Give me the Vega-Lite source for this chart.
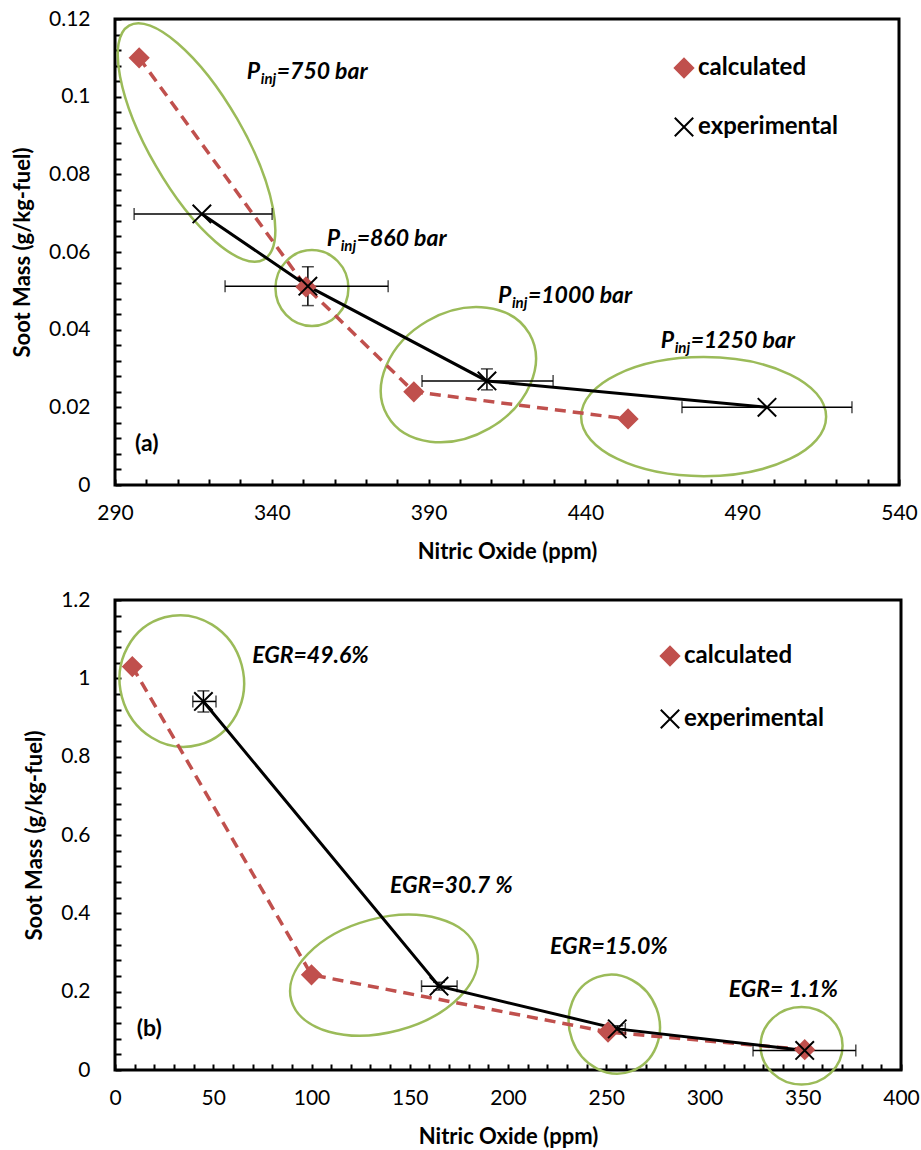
{
  "$schema": "https://vega.github.io/schema/vega-lite/v6.json",
  "padding": {"left": 10, "top": 6, "right": 10, "bottom": 0},
  "spacing": 23,
  "background": "white",
  "config": {
    "font": "Lato",
    "view": {"stroke": "black", "strokeWidth": 3},
    "axis": {
      "domain": false, "grid": false, "ticks": true, "tickSize": 6, "offset": -6, "tickColor": "black", "tickWidth": 2, "tickCount": 100,
      "labelFont": "Lato", "labelFontSize": 21, "labelColor": "black", "labelOverlap": false, "labelFlush": false,
      "titleFont": "Lato", "titleFontSize": 22, "titleFontWeight": "bold", "titleColor": "black"
    },
    "axisX": {"labelPadding": 17, "titlePadding": 18},
    "axisY": {"labelPadding": 25, "titlePadding": 14},
    "legend": {
      "labelFont": "Lato", "labelFontSize": 24, "labelFontWeight": "bold", "labelColor": "black",
      "labelOffset": 2, "symbolStrokeWidth": 2, "padding": 0, "symbolSize": 340
    }
  },
  "datasets": {
    "a_pts": [
      {"series": "calculated", "x": 297.7, "y": 0.110},
      {"series": "calculated", "x": 350.9, "y": 0.051},
      {"series": "calculated", "x": 385.3, "y": 0.024},
      {"series": "calculated", "x": 453.6, "y": 0.017},
      {"series": "experimental", "x": 317.7, "y": 0.0698, "xlo": 296.1, "xhi": 340.1},
      {"series": "experimental", "x": 351.5, "y": 0.0512, "xlo": 325.1, "xhi": 377.1, "ylo": 0.0462, "yhi": 0.0562},
      {"series": "experimental", "x": 408.6, "y": 0.0268, "xlo": 387.9, "xhi": 429.7, "ylo": 0.0245, "yhi": 0.0299},
      {"series": "experimental", "x": 497.9, "y": 0.020, "xlo": 470.8, "xhi": 525.0}
    ],
    "a_ell": [
      {"tag": "750", "x": 316.0, "y": 0.0882},
      {"tag": "860", "x": 352.8, "y": 0.0507},
      {"tag": "1000", "x": 399.5, "y": 0.0284},
      {"tag": "1250", "x": 477.7, "y": 0.0176}
    ],
    "a_lab": [
      {"x": 332.0, "y": 0.1045, "sub": "inj", "rest": "=750 bar"},
      {"x": 357.5, "y": 0.0615, "sub": "inj", "rest": "=860 bar"},
      {"x": 412.1, "y": 0.0469, "sub": "inj", "rest": "=1000 bar"},
      {"x": 464.0, "y": 0.0352, "sub": "inj", "rest": "=1250 bar"}
    ],
    "a_tag": [{"x": 296.4, "y": 0.0087, "text": "(a)"}],
    "b_pts": [
      {"series": "calculated", "x": 8.8, "y": 1.03},
      {"series": "calculated", "x": 100, "y": 0.243},
      {"series": "calculated", "x": 250.9, "y": 0.097},
      {"series": "calculated", "x": 351, "y": 0.052},
      {"series": "experimental", "x": 45, "y": 0.941, "xlo": 39.6, "xhi": 51.4, "ylo": 0.914, "yhi": 0.968},
      {"series": "experimental", "x": 164.9, "y": 0.214, "xlo": 156.0, "xhi": 174.1, "ylo": 0.204, "yhi": 0.224},
      {"series": "experimental", "x": 255.6, "y": 0.105, "xlo": 251.5, "xhi": 259.7, "ylo": 0.097, "yhi": 0.113},
      {"series": "experimental", "x": 351, "y": 0.050, "xlo": 324.7, "xhi": 377.0}
    ],
    "b_ell": [
      {"tag": "49.6", "x": 34.0, "y": 0.993},
      {"tag": "30.7", "x": 136.9, "y": 0.242},
      {"tag": "15.0", "x": 254.1, "y": 0.117},
      {"tag": "1.1", "x": 349.4, "y": 0.062}
    ],
    "b_lab": [
      {"x": 69.8, "y": 1.039, "text": "EGR=49.6%"},
      {"x": 139.9, "y": 0.4527, "text": "EGR=30.7 %"},
      {"x": 221.4, "y": 0.297, "text": "EGR=15.0%"},
      {"x": 312.3, "y": 0.1864, "text": "EGR= 1.1%"}
    ],
    "b_tag": [{"x": 11.1, "y": 0.088, "text": "(b)"}]
  },
  "vconcat": [
    {
      "width": 784,
      "height": 466,
      "layer": [
        {"data": {"name": "a_pts"},
          "mark": {"type": "point", "opacity": 0},
          "encoding": {
            "x": {"field": "x", "type": "quantitative",
              "scale": {"domain": [290, 540], "nice": false, "zero": false},
              "axis": {"title": "Nitric Oxide (ppm)",
                "values": [290,300,310,320,330,340,350,360,370,380,390,400,410,420,430,440,450,460,470,480,490,500,510,520,530,540],
                "labelExpr": "(datum.value - 290) % 50 == 0 ? datum.label : ''"}},
            "y": {"field": "y", "type": "quantitative",
              "scale": {"domain": [0, 0.12], "nice": false, "zero": false},
              "axis": {"title": "Soot Mass (g/kg-fuel)",
                "values": [0,0.004,0.008,0.012,0.016,0.02,0.024,0.028,0.032,0.036,0.04,0.044,0.048,0.052,0.056,0.06,0.064,0.068,0.072,0.076,0.08,0.084,0.088,0.092,0.096,0.1,0.104,0.108,0.112,0.116,0.12],
                "labelExpr": "abs(datum.value*50 - round(datum.value*50)) < 0.01 ? format(datum.value, '~g') : ''"}}
          }},
        {"data": {"name": "a_ell"}, "transform": [{"filter": "datum.tag == '750'"}],
          "mark": {"type": "point", "filled": false, "opacity": 1, "color": "#9BBB59", "strokeWidth": 2.5, "size": 72900, "angle": 60,
            "shape": "M1,0C1,0.192,0.5523,0.348,0,0.348C-0.5523,0.348,-1,0.192,-1,0C-1,-0.192,-0.5523,-0.348,0,-0.348C0.5523,-0.348,1,-0.192,1,0Z"},
          "encoding": {"x": {"field": "x", "type": "quantitative"}, "y": {"field": "y", "type": "quantitative"}}},
        {"data": {"name": "a_ell"}, "transform": [{"filter": "datum.tag == '860'"}],
          "mark": {"type": "point", "filled": false, "opacity": 1, "color": "#9BBB59", "strokeWidth": 2.5, "size": 5329, "angle": 0,
            "shape": "M1,0C1,0.575,0.5523,1.041,0,1.041C-0.5523,1.041,-1,0.575,-1,0C-1,-0.575,-0.5523,-1.041,0,-1.041C0.5523,-1.041,1,-0.575,1,0Z"},
          "encoding": {"x": {"field": "x", "type": "quantitative"}, "y": {"field": "y", "type": "quantitative"}}},
        {"data": {"name": "a_ell"}, "transform": [{"filter": "datum.tag == '1000'"}],
          "mark": {"type": "point", "filled": false, "opacity": 1, "color": "#9BBB59", "strokeWidth": 2.5, "size": 26896, "angle": -30,
            "shape": "M1,0C1,0.418,0.5523,0.756,0,0.756C-0.5523,0.756,-1,0.418,-1,0C-1,-0.418,-0.5523,-0.756,0,-0.756C0.5523,-0.756,1,-0.418,1,0Z"},
          "encoding": {"x": {"field": "x", "type": "quantitative"}, "y": {"field": "y", "type": "quantitative"}}},
        {"data": {"name": "a_ell"}, "transform": [{"filter": "datum.tag == '1250'"}],
          "mark": {"type": "point", "filled": false, "opacity": 1, "color": "#9BBB59", "strokeWidth": 2.5, "size": 60025, "angle": 0,
            "shape": "M1,0C1,0.268,0.5523,0.486,0,0.486C-0.5523,0.486,-1,0.268,-1,0C-1,-0.268,-0.5523,-0.486,0,-0.486C0.5523,-0.486,1,-0.268,1,0Z"},
          "encoding": {"x": {"field": "x", "type": "quantitative"}, "y": {"field": "y", "type": "quantitative"}}},
        {"data": {"name": "a_pts"}, "transform": [{"filter": "datum.series == 'calculated'"}],
          "mark": {"type": "line", "color": "#C0504D", "strokeWidth": 3.5, "strokeDash": [11, 7]},
          "encoding": {"x": {"field": "x", "type": "quantitative"}, "y": {"field": "y", "type": "quantitative"}}},
        {"data": {"name": "a_pts"}, "transform": [{"filter": "datum.series == 'experimental'"}],
          "mark": {"type": "line", "color": "black", "strokeWidth": 3},
          "encoding": {"x": {"field": "x", "type": "quantitative"}, "y": {"field": "y", "type": "quantitative"}}},
        {"data": {"name": "a_pts"}, "transform": [{"filter": "isValid(datum.xlo)"}],
          "mark": {"type": "errorbar", "ticks": {"size": 12, "thickness": 1.5, "color": "black"}, "rule": {"strokeWidth": 1.5, "color": "black"}},
          "encoding": {
            "x": {"field": "xlo", "type": "quantitative", "title": "Nitric Oxide (ppm)"},
            "x2": {"field": "xhi"},
            "y": {"field": "y", "type": "quantitative", "title": "Soot Mass (g/kg-fuel)"}}},
        {"data": {"name": "a_pts"}, "transform": [{"filter": "isValid(datum.ylo)"}],
          "mark": {"type": "errorbar", "ticks": {"size": 12, "thickness": 1.5, "color": "black"}, "rule": {"strokeWidth": 1.5, "color": "black"}},
          "encoding": {
            "x": {"field": "x", "type": "quantitative", "title": "Nitric Oxide (ppm)"},
            "y": {"field": "ylo", "type": "quantitative", "title": "Soot Mass (g/kg-fuel)"},
            "y2": {"field": "yhi"}}},
        {"data": {"name": "a_pts"},
          "mark": {"type": "point", "filled": false, "opacity": 1, "strokeWidth": 2, "size": 340},
          "encoding": {
            "x": {"field": "x", "type": "quantitative"}, "y": {"field": "y", "type": "quantitative"},
            "fill": {"field": "series", "type": "nominal", "scale": {"domain": ["calculated", "experimental"], "range": ["#C0504D", "transparent"]},
              "legend": {"orient": "none", "legendX": 557, "legendY": 37, "title": null, "rowPadding": 31}},
            "stroke": {"field": "series", "type": "nominal", "scale": {"domain": ["calculated", "experimental"], "range": ["#C0504D", "black"]},
              "legend": {"orient": "none", "legendX": 557, "legendY": 37, "title": null, "rowPadding": 31}},
            "shape": {"field": "series", "type": "nominal", "scale": {"domain": ["calculated", "experimental"], "range": ["diamond", "M-1,-1L1,1M-1,1L1,-1"]},
              "legend": {"orient": "none", "legendX": 557, "legendY": 37, "title": null, "rowPadding": 31}}
          }},
        {"data": {"name": "a_lab"},
          "mark": {"type": "text", "font": "Lato", "fontSize": 23, "fontWeight": "bold", "fontStyle": "italic", "align": "left", "baseline": "alphabetic", "color": "black"},
          "encoding": {"x": {"field": "x", "type": "quantitative"}, "y": {"field": "y", "type": "quantitative"}, "text": {"value": "P"}}},
        {"data": {"name": "a_lab"},
          "mark": {"type": "text", "font": "Lato", "fontSize": 15, "fontWeight": "bold", "fontStyle": "italic", "align": "left", "baseline": "alphabetic", "color": "black", "dx": 14, "dy": 5},
          "encoding": {"x": {"field": "x", "type": "quantitative"}, "y": {"field": "y", "type": "quantitative"}, "text": {"field": "sub"}}},
        {"data": {"name": "a_lab"},
          "mark": {"type": "text", "font": "Lato", "fontSize": 23, "fontWeight": "bold", "fontStyle": "italic", "align": "left", "baseline": "alphabetic", "color": "black", "dx": 30},
          "encoding": {"x": {"field": "x", "type": "quantitative"}, "y": {"field": "y", "type": "quantitative"}, "text": {"field": "rest"}}},
        {"data": {"name": "a_tag"},
          "mark": {"type": "text", "font": "Lato", "fontSize": 23, "fontWeight": "bold", "align": "left", "baseline": "alphabetic", "color": "black"},
          "encoding": {"x": {"field": "x", "type": "quantitative"}, "y": {"field": "y", "type": "quantitative"}, "text": {"field": "text"}}}
      ]
    },
    {
      "width": 786,
      "height": 470,
      "layer": [
        {"data": {"name": "b_pts"},
          "mark": {"type": "point", "opacity": 0},
          "encoding": {
            "x": {"field": "x", "type": "quantitative",
              "scale": {"domain": [0, 400], "nice": false, "zero": false},
              "axis": {"title": "Nitric Oxide (ppm)",
                "values": [0,10,20,30,40,50,60,70,80,90,100,110,120,130,140,150,160,170,180,190,200,210,220,230,240,250,260,270,280,290,300,310,320,330,340,350,360,370,380,390,400],
                "labelExpr": "datum.value % 50 == 0 ? datum.label : ''"}},
            "y": {"field": "y", "type": "quantitative",
              "scale": {"domain": [0, 1.2], "nice": false, "zero": false},
              "axis": {"title": "Soot Mass (g/kg-fuel)",
                "values": [0,0.04,0.08,0.12,0.16,0.2,0.24,0.28,0.32,0.36,0.4,0.44,0.48,0.52,0.56,0.6,0.64,0.68,0.72,0.76,0.8,0.84,0.88,0.92,0.96,1,1.04,1.08,1.12,1.16,1.2],
                "labelExpr": "abs(datum.value*5 - round(datum.value*5)) < 0.01 ? format(datum.value, '~g') : ''"}}
          }},
        {"data": {"name": "b_ell"}, "transform": [{"filter": "datum.tag == '49.6'"}],
          "mark": {"type": "point", "filled": false, "opacity": 1, "color": "#9BBB59", "strokeWidth": 2.5, "size": 17424, "angle": 75,
            "shape": "M1,0C1,0.519,0.5523,0.939,0,0.939C-0.5523,0.939,-1,0.519,-1,0C-1,-0.519,-0.5523,-0.939,0,-0.939C0.5523,-0.939,1,-0.519,1,0Z"},
          "encoding": {"x": {"field": "x", "type": "quantitative"}, "y": {"field": "y", "type": "quantitative"}}},
        {"data": {"name": "b_ell"}, "transform": [{"filter": "datum.tag == '30.7'"}],
          "mark": {"type": "point", "filled": false, "opacity": 1, "color": "#9BBB59", "strokeWidth": 2.5, "size": 36864, "angle": -15,
            "shape": "M1,0C1,0.328,0.5523,0.594,0,0.594C-0.5523,0.594,-1,0.328,-1,0C-1,-0.328,-0.5523,-0.594,0,-0.594C0.5523,-0.594,1,-0.328,1,0Z"},
          "encoding": {"x": {"field": "x", "type": "quantitative"}, "y": {"field": "y", "type": "quantitative"}}},
        {"data": {"name": "b_ell"}, "transform": [{"filter": "datum.tag == '15.0'"}],
          "mark": {"type": "point", "filled": false, "opacity": 1, "color": "#9BBB59", "strokeWidth": 2.5, "size": 10000, "angle": 70,
            "shape": "M1,0C1,0.497,0.5523,0.9,0,0.9C-0.5523,0.9,-1,0.497,-1,0C-1,-0.497,-0.5523,-0.9,0,-0.9C0.5523,-0.9,1,-0.497,1,0Z"},
          "encoding": {"x": {"field": "x", "type": "quantitative"}, "y": {"field": "y", "type": "quantitative"}}},
        {"data": {"name": "b_ell"}, "transform": [{"filter": "datum.tag == '1.1'"}],
          "mark": {"type": "point", "filled": false, "opacity": 1, "color": "#9BBB59", "strokeWidth": 2.5, "size": 6724, "angle": 0,
            "shape": "M1,0C1,0.522,0.5523,0.946,0,0.946C-0.5523,0.946,-1,0.522,-1,0C-1,-0.522,-0.5523,-0.946,0,-0.946C0.5523,-0.946,1,-0.522,1,0Z"},
          "encoding": {"x": {"field": "x", "type": "quantitative"}, "y": {"field": "y", "type": "quantitative"}}},
        {"data": {"name": "b_pts"}, "transform": [{"filter": "datum.series == 'calculated'"}],
          "mark": {"type": "line", "color": "#C0504D", "strokeWidth": 3.5, "strokeDash": [11, 7]},
          "encoding": {"x": {"field": "x", "type": "quantitative"}, "y": {"field": "y", "type": "quantitative"}}},
        {"data": {"name": "b_pts"}, "transform": [{"filter": "datum.series == 'experimental'"}],
          "mark": {"type": "line", "color": "black", "strokeWidth": 3},
          "encoding": {"x": {"field": "x", "type": "quantitative"}, "y": {"field": "y", "type": "quantitative"}}},
        {"data": {"name": "b_pts"}, "transform": [{"filter": "isValid(datum.xlo)"}],
          "mark": {"type": "errorbar", "ticks": {"size": 12, "thickness": 1.5, "color": "black"}, "rule": {"strokeWidth": 1.5, "color": "black"}},
          "encoding": {
            "x": {"field": "xlo", "type": "quantitative", "title": "Nitric Oxide (ppm)"},
            "x2": {"field": "xhi"},
            "y": {"field": "y", "type": "quantitative", "title": "Soot Mass (g/kg-fuel)"}}},
        {"data": {"name": "b_pts"}, "transform": [{"filter": "isValid(datum.ylo)"}],
          "mark": {"type": "errorbar", "ticks": {"size": 12, "thickness": 1.5, "color": "black"}, "rule": {"strokeWidth": 1.5, "color": "black"}},
          "encoding": {
            "x": {"field": "x", "type": "quantitative", "title": "Nitric Oxide (ppm)"},
            "y": {"field": "ylo", "type": "quantitative", "title": "Soot Mass (g/kg-fuel)"},
            "y2": {"field": "yhi"}}},
        {"data": {"name": "b_pts"},
          "mark": {"type": "point", "filled": false, "opacity": 1, "strokeWidth": 2, "size": 340},
          "encoding": {
            "x": {"field": "x", "type": "quantitative"}, "y": {"field": "y", "type": "quantitative"},
            "fill": {"field": "series", "type": "nominal", "scale": {"domain": ["calculated", "experimental"], "range": ["#C0504D", "transparent"]},
              "legend": {"orient": "none", "legendX": 543, "legendY": 44, "title": null, "rowPadding": 35}},
            "stroke": {"field": "series", "type": "nominal", "scale": {"domain": ["calculated", "experimental"], "range": ["#C0504D", "black"]},
              "legend": {"orient": "none", "legendX": 543, "legendY": 44, "title": null, "rowPadding": 35}},
            "shape": {"field": "series", "type": "nominal", "scale": {"domain": ["calculated", "experimental"], "range": ["diamond", "M-1,-1L1,1M-1,1L1,-1"]},
              "legend": {"orient": "none", "legendX": 543, "legendY": 44, "title": null, "rowPadding": 35}}
          }},
        {"data": {"name": "b_lab"},
          "mark": {"type": "text", "font": "Lato", "fontSize": 23, "fontWeight": "bold", "fontStyle": "italic", "align": "left", "baseline": "alphabetic", "color": "black"},
          "encoding": {"x": {"field": "x", "type": "quantitative"}, "y": {"field": "y", "type": "quantitative"}, "text": {"field": "text"}}},
        {"data": {"name": "b_tag"},
          "mark": {"type": "text", "font": "Lato", "fontSize": 23, "fontWeight": "bold", "align": "left", "baseline": "alphabetic", "color": "black"},
          "encoding": {"x": {"field": "x", "type": "quantitative"}, "y": {"field": "y", "type": "quantitative"}, "text": {"field": "text"}}}
      ]
    }
  ],
  "resolve": {
    "scale": {"fill": "independent", "stroke": "independent", "shape": "independent"},
    "legend": {"fill": "independent", "stroke": "independent", "shape": "independent"}
  }
}
